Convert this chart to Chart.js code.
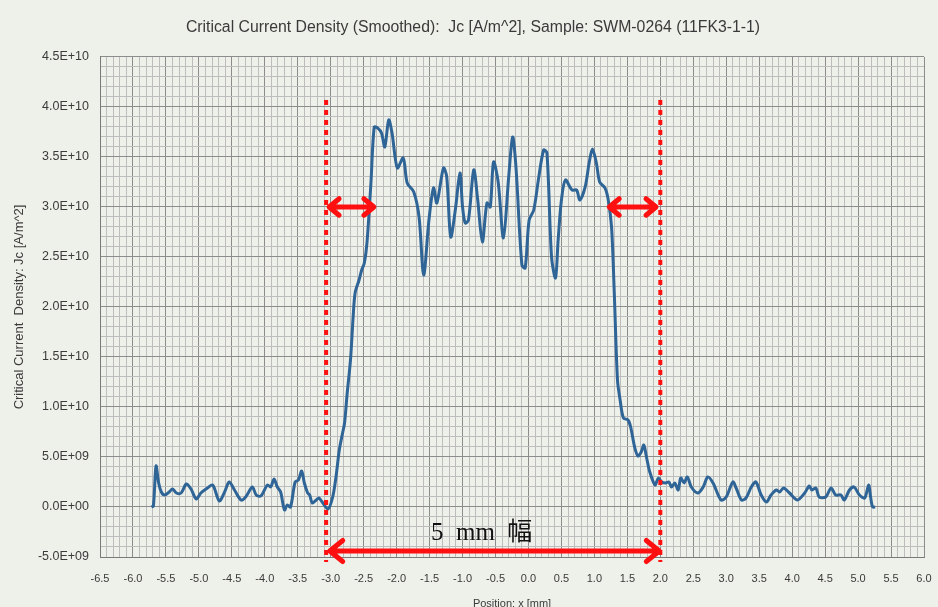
<!DOCTYPE html>
<html>
<head>
<meta charset="utf-8">
<script src="https://cdn.jsdelivr.net/npm/chart.js@4.4.1/dist/chart.umd.min.js"></script>
<style>
  html, body { margin: 0; padding: 0; background: #eef0ea; }
  #wrap { width: 938px; height: 607px; }
</style>
</head>
<body>
<div id="wrap"><canvas id="chart" width="938" height="607"></canvas></div>
<script>
// Position x [mm]
const positions = [
  -5.72, -5.69, -5.65, -5.61, -5.57, -5.52, -5.45, -5.40, -5.34, -5.27,
  -5.19, -5.12, -5.04, -4.97, -4.87, -4.79, -4.69, -4.61, -4.54, -4.46,
  -4.36, -4.29, -4.19, -4.13, -4.06, -3.96, -3.91, -3.86, -3.81, -3.76,
  -3.73, -3.70, -3.66, -3.61, -3.54, -3.49, -3.44, -3.40, -3.35, -3.32,
  -3.28, -3.22, -3.18, -3.13, -3.04, -2.97, -2.92, -2.87, -2.82, -2.79,
  -2.75, -2.70, -2.66, -2.63, -2.57, -2.53, -2.49, -2.45, -2.39, -2.34,
  -2.29, -2.23, -2.18, -2.12, -2.07, -1.99, -1.90, -1.84, -1.74, -1.66,
  -1.59, -1.51, -1.44, -1.39, -1.29, -1.24, -1.18, -1.11, -1.04, -1.00,
  -0.96, -0.91, -0.83, -0.77, -0.70, -0.63, -0.58, -0.53, -0.46, -0.38,
  -0.30, -0.24, -0.19, -0.10, -0.05, 0.01, 0.08, 0.15, 0.23, 0.28,
  0.35, 0.41, 0.45, 0.50, 0.56, 0.66, 0.73, 0.78, 0.86, 0.92,
  0.97, 1.03, 1.08, 1.16, 1.21, 1.26, 1.30, 1.35, 1.39, 1.44,
  1.51, 1.55, 1.61, 1.66, 1.71, 1.75, 1.79, 1.84, 1.92, 1.97,
  2.02, 2.08, 2.13, 2.17, 2.22, 2.27, 2.31, 2.36, 2.41, 2.47,
  2.57, 2.65, 2.72, 2.80, 2.92, 3.00, 3.10, 3.15, 3.23, 3.30,
  3.38, 3.45, 3.53, 3.61, 3.68, 3.76, 3.81, 3.87, 3.96, 4.08,
  4.19, 4.26, 4.30, 4.36, 4.41, 4.51, 4.59, 4.66, 4.74, 4.79,
  4.87, 4.94, 5.02, 5.10, 5.16, 5.19, 5.22, 5.26
];

// Jc in units of 1E+09 A/m^2
const jcE9 = [
  0.0, 0.1, 4.1, 2.4, 1.5, 1.2, 1.5, 1.8, 1.4, 1.4,
  2.3, 1.8, 0.8, 1.4, 1.9, 2.2, 0.6, 1.5, 2.5, 1.7,
  0.7, 1.0, 2.0, 1.2, 1.1, 2.2, 2.0, 2.8, 2.0, 1.5,
  0.5, -0.3, 0.2, 0.0, 2.5, 2.7, 3.6, 2.4, 1.4, 1.2,
  0.4, 0.7, 0.9, 0.5, -0.2, 1.0, 3.0, 5.7, 7.4, 8.4,
  11.4, 14.7, 19.0, 21.4, 22.7, 23.7, 24.4, 26.4, 32.4, 38.0,
  37.9, 37.4, 36.0, 38.7, 37.4, 33.9, 34.9, 32.4, 31.5, 29.0,
  23.2, 28.7, 31.9, 30.4, 33.9, 33.0, 27.0, 29.7, 33.4, 30.0,
  28.4, 28.7, 33.7, 30.7, 26.5, 30.4, 30.0, 34.5, 32.5, 26.9,
  33.0, 37.0, 34.0, 24.2, 23.9, 28.7, 29.7, 32.7, 35.7, 35.4,
  25.0, 22.9, 26.7, 30.7, 32.7, 31.7, 31.7, 30.7, 32.0, 34.4,
  35.8, 34.4, 32.5, 31.9, 30.7, 28.0, 21.7, 12.7, 10.7, 8.9,
  8.7, 8.0, 6.0, 5.1, 5.5, 6.2, 5.0, 3.5, 2.2, 2.9,
  2.5, 2.4, 2.5, 2.0, 2.4, 1.7, 2.9, 2.4, 3.0, 2.0,
  1.4, 2.0, 3.0, 2.4, 0.7, 1.0, 2.5, 1.9, 0.7, 0.9,
  2.0, 2.5, 1.2, 0.5, 1.2, 1.7, 1.5, 1.9, 1.4, 0.7,
  1.4, 2.1, 1.7, 1.9, 1.0, 1.0, 1.9, 1.2, 1.2, 0.7,
  1.7, 2.0, 1.2, 0.9, 2.2, 1.0, 0.0, 0.0
];

// axis ranges (x in mm, y in 1E+09 A/m^2)
const xRange = [-6.5, 6.0];
const yRange = [-5, 45];

// red "5 mm width" markup, in data units
const edgeLines = [-3.07, 2.0];
const edgeSpan = [-5.5, 40.7];
const arrows = [
  { from: -3.04, to: -2.33, y: 30, size: 11 },
  { from: 1.21, to: 1.95, y: 30, size: 11 },
  { from: -3.03, to: 2.0, y: -4.4, size: 14 },
];
const widthLabel = { text: '5\u2002mm\u2002幅', x: -0.71, y: -2.6 };

const bg = '#eef0ea';
const textColor = '#3a3a3a';

function sciLabel(v) {
  const n = Math.round(v) * 1e9;
  if (n === 0) return '0.0E+00';
  const exp = Math.floor(Math.log10(Math.abs(n)) + 1e-9);
  const mant = n / Math.pow(10, exp);
  return mant.toFixed(1) + 'E' + (exp < 0 ? '-' : '+') + String(Math.abs(exp)).padStart(2, '0');
}

const paper = {
  id: 'paper',
  beforeDraw(chart) {
    const { ctx, width, height } = chart;
    ctx.save();
    ctx.fillStyle = bg;
    ctx.fillRect(0, 0, width, height);
    ctx.restore();
  }
};

const widthMarks = {
  id: 'widthMarks',
  afterDatasetsDraw(chart) {
    const { ctx, scales: { x, y } } = chart;
    ctx.save();
    ctx.strokeStyle = '#ff1010';

    // dotted edge lines
    ctx.lineWidth = 4;
    ctx.setLineDash([5, 5]);
    edgeLines.forEach(v => {
      const px = x.getPixelForValue(v);
      ctx.beginPath();
      ctx.moveTo(px, y.getPixelForValue(edgeSpan[1]));
      ctx.lineTo(px, y.getPixelForValue(edgeSpan[0]));
      ctx.stroke();
    });

    // double arrows
    ctx.setLineDash([]);
    ctx.lineWidth = 5;
    ctx.lineJoin = 'round';
    ctx.lineCap = 'round';
    arrows.forEach(a => {
      const x1 = x.getPixelForValue(a.from);
      const x2 = x.getPixelForValue(a.to);
      const py = y.getPixelForValue(a.y);
      const s = a.size;
      ctx.beginPath();
      ctx.moveTo(x1 + 2, py);
      ctx.lineTo(x2 - 2, py);
      ctx.moveTo(x1 + s, py - s * 0.75);
      ctx.lineTo(x1 + 1, py);
      ctx.lineTo(x1 + s, py + s * 0.75);
      ctx.moveTo(x2 - s, py - s * 0.75);
      ctx.lineTo(x2 - 1, py);
      ctx.lineTo(x2 - s, py + s * 0.75);
      ctx.stroke();
    });

    // label
    ctx.fillStyle = '#111';
    ctx.font = '25px "Liberation Serif", "Noto Sans CJK JP", serif';
    ctx.textAlign = 'center';
    ctx.textBaseline = 'middle';
    ctx.fillText(widthLabel.text, x.getPixelForValue(widthLabel.x), y.getPixelForValue(widthLabel.y));
    ctx.restore();
  }
};

const ctx = document.getElementById('chart');
const chart = new Chart(ctx, {
  type: 'line',
  data: {
    datasets: [{
      label: 'Jc',
      data: positions.map((p, i) => ({ x: p, y: jcE9[i] })),
      borderColor: '#2e6496',
      borderWidth: 3,
      pointRadius: 0,
      tension: 0.3,
      fill: false,
    }],
  },
  options: {
    responsive: false,
    animation: false,
    layout: {
      padding: { top: 0, right: 14, bottom: 0, left: 22 },
    },
    scales: {
      x: {
        type: 'linear',
        min: xRange[0],
        max: xRange[1],
        grid: {
          drawTicks: false,
          color: (c) => (Math.round(c.tick.value * 10) % 5 === 0 ? '#8c8c8c' : '#bdbdbd'),
          lineWidth: 1,
        },
        border: { color: '#7a7a7a', width: 1 },
        ticks: {
          stepSize: 0.1,
          autoSkip: false,
          maxRotation: 0,
          minRotation: 0,
          padding: 15,
          color: textColor,
          font: { family: 'Liberation Sans', size: 11 },
          callback: (v) => (Math.round(v * 10) % 5 === 0 ? (Math.round(v * 10) / 10).toFixed(1) : ''),
        },
        title: {
          display: true,
          text: 'Position: x [mm]',
          color: textColor,
          font: { family: 'Liberation Sans', size: 11 },
          padding: { top: 0, bottom: -4 },
        },
        afterFit: (scale) => {
          scale.height = 50;
          // let the end labels hang over the padding instead of shrinking the plot
          scale.paddingLeft = 0;
          scale.paddingRight = 0;
        },
      },
      y: {
        min: yRange[0],
        max: yRange[1],
        grid: {
          drawTicks: false,
          color: (c) => (Math.round(c.tick.value) % 5 === 0 ? '#8c8c8c' : '#bdbdbd'),
          lineWidth: 1,
        },
        border: { color: '#7a7a7a', width: 1 },
        ticks: {
          stepSize: 1,
          autoSkip: false,
          padding: 11,
          color: textColor,
          font: { family: 'Liberation Sans', size: 12.5 },
          callback: (v) => (Math.round(v) % 5 === 0 ? sciLabel(v) : ''),
        },
        title: {
          display: true,
          text: 'Critical Current  Density: Jc [A/m^2]',
          color: textColor,
          font: { family: 'Liberation Sans', size: 13 },
          padding: { top: -10, bottom: 0 },
        },
        afterFit: (scale) => { scale.width = 78; },
      },
    },
    plugins: {
      legend: { display: false },
      tooltip: { enabled: false },
      title: {
        display: true,
        text: 'Critical Current Density (Smoothed):  Jc [A/m^2], Sample: SWM-0264 (11FK3-1-1)',
        color: textColor,
        font: { family: 'Liberation Sans', size: 15.8, weight: 'normal' },
        padding: { top: 18, bottom: 20 },
      },
    },
  },
  plugins: [paper, widthMarks],
});
</script>
</body>
</html>
